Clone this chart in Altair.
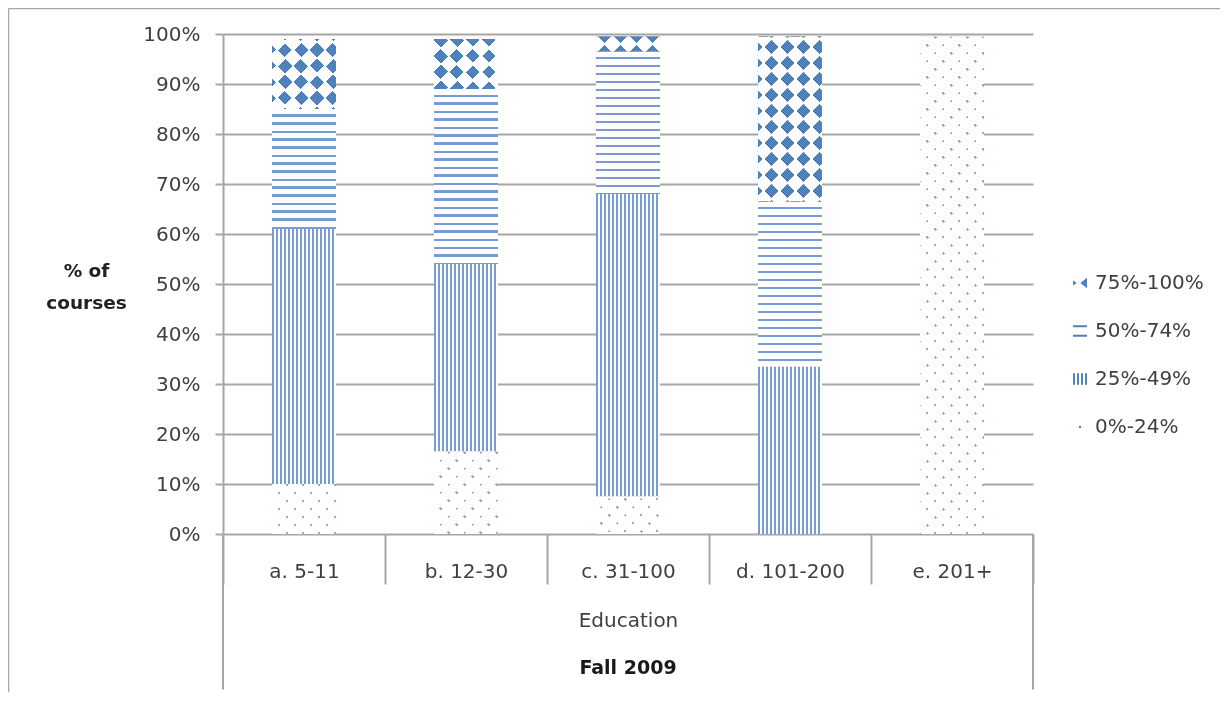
import altair as alt
import pandas as pd

# ---------------- data ----------------
categories = ["a. 5-11", "b. 12-30", "c. 31-100", "d. 101-200", "e. 201+"]
series_names = ["0%-24%", "25%-49%", "50%-74%", "75%-100%"]
pct_0_24 = [10.0, 16.5, 7.5, 0.0, 99.5]
pct_25_49 = [51.0, 37.5, 60.5, 33.5, 0.0]
pct_50_74 = [24.0, 35.0, 28.5, 33.0, 0.0]
pct_75_100 = [14.0, 10.0, 3.0, 33.0, 0.0]
y_tick_values = [0, 10, 20, 30, 40, 50, 60, 70, 80, 90, 100]
legend_order = ["75%-100%", "50%-74%", "25%-49%", "0%-24%"]

rows = []
for i, cat in enumerate(categories):
    base = 0.0
    for ser, vals in zip(series_names, [pct_0_24, pct_25_49, pct_50_74, pct_75_100]):
        v = vals[i]
        rows.append({"cat": cat, "ser": ser, "start": base, "end": base + v})
        base += v
df = pd.DataFrame(rows)

# ---------------- style ----------------
W, H = 810, 500
BAR_W = 64
PAD = {"left": 215, "top": 26, "right": 187, "bottom": 159}
FONT = "DejaVu Sans"
TXT = "#404040"
GRAY = "#a6a6a6"
BLUE_D = "#4f81bd"
BLUE_LINE = "#779cd2"
BLUE_DOT = "#8cace0"
TRANSP = "rgba(255,255,255,0)"


def bands(L, period, lo, hi, on, off):
    stops = [{"offset": 0.0, "color": off}]
    k = -1
    while True:
        a = k * period + lo
        b = k * period + hi
        if a >= L:
            break
        a2, b2 = max(a, 0.0), min(b, L)
        if b2 > a2:
            oa, ob = round(a2 / L, 5), round(b2 / L, 5)
            stops += [{"offset": oa, "color": off}, {"offset": oa, "color": on},
                      {"offset": ob, "color": on}, {"offset": ob, "color": off}]
        k += 1
    stops.append({"offset": 1.0, "color": off})
    return stops


def grad(x1, y1, x2, y2, stops):
    return {"gradient": "linear", "x1": x1, "y1": y1, "x2": x2, "y2": y2, "stops": stops}


def diag(w, h, stops):
    k = (w + h) * w / (w * w + h * h)
    return grad(0, 0, round(k, 6), round(k * h / w, 6), stops)


def anti(w, h, stops):
    k = (w + h) * w / (w * w + h * h)
    return grad(0, 1, round(k, 6), round(1 - k * h / w, 6), stops)


x_axis = alt.Axis(
    title="Education", tickBand="extent", tickSize=50, tickWidth=2, tickColor=GRAY,
    domain=False, grid=False, labelAngle=0, labelFont=FONT, labelFontSize=20,
    labelColor=TXT, labelBaseline="middle", labelPadding=-13,
    titleFont=FONT, titleFontSize=20, titleFontWeight="normal", titleColor=TXT,
    titleX=W / 2, titleY=86, titleBaseline="middle", titleAlign="center",
)
y_axis = alt.Axis(
    values=y_tick_values, labelExpr="datum.value + '%'", grid=True, gridColor=GRAY,
    gridWidth=2, tickSize=8, tickWidth=2, tickColor=GRAY, domainColor=GRAY,
    domainWidth=2, labelFont=FONT, labelFontSize=20, labelColor=TXT, labelPadding=15,
    title=["% of", "courses"], titleAngle=0, titleFont=FONT, titleFontSize=18.5,
    titleFontWeight="bold", titleColor="#222222", titleX=-137, titleY=236,
    titleAlign="center", titleBaseline="middle", titleLineHeight=32,
)
X = alt.X("cat:N", scale=alt.Scale(domain=categories, paddingInner=0, paddingOuter=0), axis=x_axis)
Y = alt.Y("start:Q", scale=alt.Scale(domain=[0, 100], nice=False, zero=True), axis=y_axis)
Y2 = alt.Y2("end:Q")


def seg(cat, ser, **mark_kw):
    flt = f"datum.cat == '{cat}' && datum.ser == '{ser}'"
    return alt.Chart().transform_filter(flt).mark_bar(size=BAR_W, strokeWidth=0, **mark_kw).encode(
        x=X, y=Y, y2=Y2)


layers = []

# 25%-49%: vertical stripes (same width for every bar -> one layer)
layers.append(
    alt.Chart().transform_filter("datum.ser == '25%-49%' && datum.end > datum.start")
    .mark_bar(size=BAR_W, strokeWidth=0,
              fill=grad(0, 0, 1, 0, bands(BAR_W, 4, 0, 2, BLUE_LINE, "white")))
    .encode(x=X, y=Y, y2=Y2)
)

for i, cat in enumerate(categories):
    # 50%-74%: horizontal stripes
    v = pct_50_74[i]
    if v > 0:
        h = v * H / 100
        layers.append(seg(cat, "50%-74%", fill=grad(0, 0, 0, 1, bands(h, 8, 5.5, 7.8, BLUE_LINE, "white"))))
    # 75%-100%: diamond checker
    v = pct_75_100[i]
    if v > 0:
        h = v * H / 100
        L = BAR_W + h
        layers.append(seg(cat, "75%-100%", fill="white"))
        layers.append(seg(cat, "75%-100%", fill=diag(BAR_W, h, bands(L, 32, 0, 16, "black", TRANSP))))
        layers.append(seg(cat, "75%-100%", fill=anti(BAR_W, h, bands(L, 32, 0, 16, "white", TRANSP)),
                          blend="difference"))
        layers.append(seg(cat, "75%-100%", fill=BLUE_D, blend="screen"))
        layers.append(seg(cat, "75%-100%", fill=diag(BAR_W, h, bands(L, 16, -1.0, 1.0, "white", TRANSP))))
        layers.append(seg(cat, "75%-100%", fill=anti(BAR_W, h, bands(L, 16, -1.0, 1.0, "white", TRANSP))))
    # 0%-24%: sparse dots
    v = pct_0_24[i]
    if v > 0:
        h = v * H / 100
        L = BAR_W + h
        layers.append(seg(cat, "0%-24%", fill=BLUE_DOT))
        layers.append(seg(cat, "0%-24%", fill=diag(BAR_W, h, bands(L, 16, 1.5, 14.5, "white", TRANSP))))
        layers.append(seg(cat, "0%-24%", fill=anti(BAR_W, h, bands(L, 16, 1.5, 14.5, "white", TRANSP))))

one_row = f"datum.cat == '{categories[0]}' && datum.ser == '{series_names[0]}'"
last_row = f"datum.cat == '{categories[-1]}' && datum.ser == '{series_names[0]}'"

# outer frame lines of the category axis
layers.append(
    alt.Chart().transform_filter(one_row).mark_rule(color=GRAY, strokeWidth=2).encode(
        x=alt.X("cat:N", bandPosition=0, scale=alt.Scale(domain=categories, paddingInner=0, paddingOuter=0), axis=x_axis),
        y=alt.value(H), y2=alt.value(H + 155.5))
)
layers.append(
    alt.Chart().transform_filter(last_row).mark_rule(color=GRAY, strokeWidth=2).encode(
        x=alt.X("cat:N", bandPosition=1, scale=alt.Scale(domain=categories, paddingInner=0, paddingOuter=0), axis=x_axis),
        y=alt.value(H), y2=alt.value(H + 155.5))
)
# chart-area border (top and left)
layers.append(
    alt.Chart().transform_filter(one_row).mark_rule(color=GRAY, strokeWidth=1.5).encode(
        x=alt.value(-214.5), x2=alt.value(W + 187), y=alt.value(-25.5))
)
layers.append(
    alt.Chart().transform_filter(one_row).mark_rule(color=GRAY, strokeWidth=1.5).encode(
        x=alt.value(-214.5), y=alt.value(-25.5), y2=alt.value(H + 158))
)

legend_paths = [
    "M-1,-0.35L-0.45,0L-1,0.35Z M1,-0.75L0.05,0L1,0.75Z",
    "M-1,-0.81H1V-0.53H-1Z M-1,0.53H1V0.81H-1Z",
    "M-1,-0.83H-0.72V0.83H-1Z M-0.43,-0.83H-0.15V0.83H-0.43Z M0.15,-0.83H0.43V0.83H0.15Z M0.72,-0.83H1V0.83H0.72Z",
    "M-0.16,-0.16H0.16V0.16H-0.16Z",
]
layers.append(
    alt.Chart().transform_filter("false").mark_point(filled=True, color=BLUE_D, opacity=1, size=196).encode(
        shape=alt.Shape(
            "ser:N",
            scale=alt.Scale(domain=legend_order, range=legend_paths),
            legend=alt.Legend(
                title=None, orient="none", legendX=847, legendY=239, labelFont=FONT,
                labelFontSize=20, labelColor=TXT, labelOffset=5, rowPadding=28,
                symbolSize=196, symbolStrokeWidth=0, symbolFillColor=BLUE_D, padding=0,
            ),
        )
    )
)

chart = alt.layer(*layers, data=df).properties(
    width=W, height=H, padding=PAD, autosize=alt.AutoSizeParams(type="none"),
    background="white",
    title=alt.TitleParams("Fall 2009", orient="bottom", anchor="middle", frame="group",
                          font=FONT, fontSize=19, fontWeight="bold", color="#1a1a1a",
                          baseline="middle", offset=-25),
).configure_view(strokeWidth=0)

chart.save("out.html", embed_options={"renderer": "svg", "actions": False})
